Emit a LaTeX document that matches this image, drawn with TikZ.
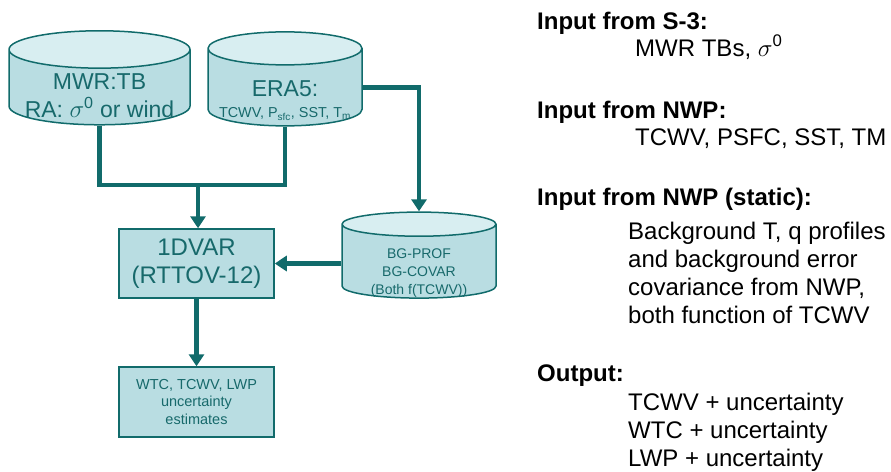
\documentclass[tikz,border=0pt]{standalone}
\usepackage{fontspec}
\setmainfont{Liberation Sans}
\usepackage{tikz}
\usetikzlibrary{shapes.geometric, arrows.meta, positioning}

\definecolor{tealline}{HTML}{116B6B}
\definecolor{tealfill}{HTML}{B9DDE2}
\definecolor{tealtop}{HTML}{D8EEF1}
\definecolor{tealtext}{HTML}{17696B}

% text of a cylinder, set a little below its centre
\newcommand{\dbtext}[2]{\raisebox{#1}[0pt][0pt]{\begin{tabular}{@{}c@{}}#2\end{tabular}}}

\tikzset{
  db/.style={cylinder, shape border rotate=90, aspect=0.25, draw=tealline,
    line width=1.5pt, cylinder uses custom fill, cylinder body fill=tealfill,
    cylinder end fill=tealtop, text=tealtext, inner sep=0pt},
  procbox/.style={rectangle, draw=tealline, line width=1.5pt, fill=tealfill,
    text=tealtext, align=center, inner sep=0pt},
  flow/.style={draw=tealline, line width=4.3pt},
  flowarrow/.style={flow, -{Triangle[length=12pt,width=15pt]}},
  heading/.style={anchor=base west, inner sep=0pt, font=\fontsize{24}{28}\selectfont\bfseries},
  body/.style={anchor=base west, inner sep=0pt, align=left, font=\fontsize{24}{28}\selectfont}
}

\begin{document}
\begin{tikzpicture}[x=1pt, y=-1pt]
  \useasboundingbox (0,0) rectangle (891,471);

  \node[db, minimum width=181pt, minimum height=94pt,
        font=\fontsize{23}{25}\selectfont] (mwr) at (99.5,87.5)
        {\dbtext{-17pt}{MWR:TB\\RA: $\sigma$\textsuperscript{0} or wind}};
  \node[db, minimum width=154pt, minimum height=94pt,
        font=\fontsize{23}{25}\selectfont] (era) at (285,87.5)
        {\dbtext{-21pt}{ERA5:\\[-4pt]
         {\fontsize{14.4}{16}\selectfont TCWV, P\textsubscript{sfc}, SST, T\textsubscript{m}}}};
  \node[db, minimum width=154pt, minimum height=86pt,
        font=\fontsize{14}{18}\selectfont] (bg) at (419,261.5)
        {\dbtext{-15pt}{BG-PROF\\BG-COVAR\\(Both f(TCWV))}};
  \node[procbox, minimum width=155pt, minimum height=69pt,
        font=\fontsize{24}{28}\selectfont] (dvar) at (196.5,263.5)
        {1DVAR\\(RTTOV-12)};
  \node[procbox, minimum width=155pt, minimum height=70pt,
        font=\fontsize{14.5}{17.5}\selectfont] (out) at (196.5,402)
        {WTC, TCWV, LWP\\uncertainty\\estimates};

  \coordinate (join) at (198,185);
  \draw[flow] (mwr.south) |- (join);
  \draw[flow] (era.south) |- (join);
  \draw[flowarrow] (join) -- (dvar.north -| join);
  \draw[flowarrow] (era.east) -| (bg.north);
  \draw[flowarrow] (dvar.east -| bg.west) -- (dvar.east);
  \draw[flowarrow] (dvar.south) -- (out.north);

  % notes on the right
  \node[heading] (hs3) at (537,29) {Input from S-3:};
  \node[body] (ts3) at (635,56) {MWR TBs, $\sigma$\textsuperscript{0}};
  \node[heading] (hnwp) at (537,118) {Input from NWP:};
  \node[body] (tnwp) at (635,145) {TCWV, PSFC, SST, TM};
  \node[heading] (hstat) at (537,205) {Input from NWP (static):};
  \node[body] (tstat) at (628,323) {Background T, q profiles\\and background error\\covariance from NWP,\\both function of TCWV};
  \node[heading] (hout) at (537,381) {Output:};
  \node[body] (tout) at (628,466) {TCWV + uncertainty\\WTC + uncertainty\\LWP + uncertainty};
\end{tikzpicture}
\end{document}
